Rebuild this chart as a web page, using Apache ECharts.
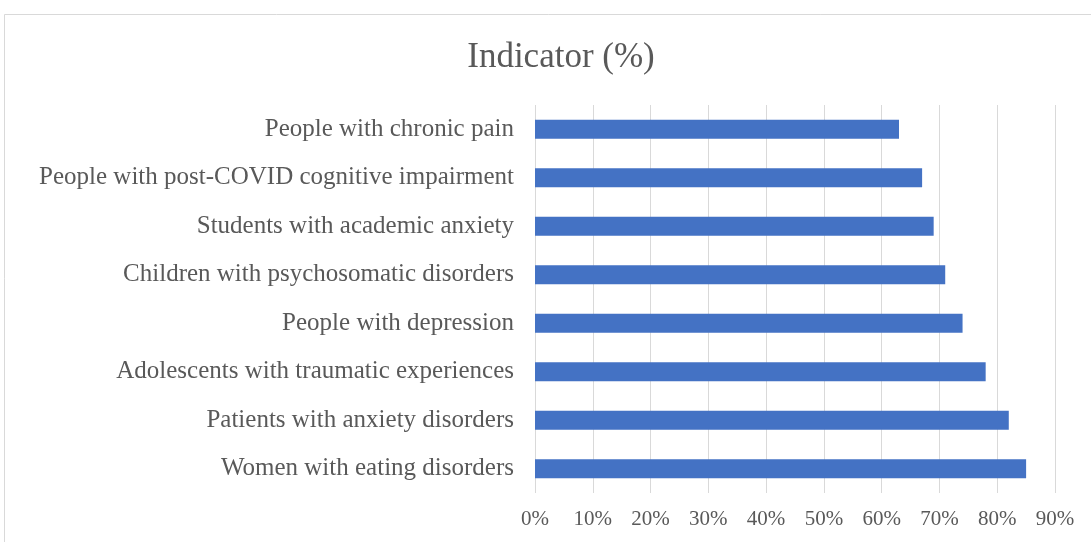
<!DOCTYPE html>
<html>
<head>
<meta charset="utf-8">
<script src="https://cdn.jsdelivr.net/npm/echarts@6/dist/echarts.min.js"></script>
<style>
  html, body { margin: 0; padding: 0; background: #fff; }
  #chart { width: 1091px; height: 542px; }
</style>
</head>
<body>
<div id="chart"></div>
<script>
// Categories listed top to bottom
var categories = [
  'People with chronic pain',
  'People with post-COVID cognitive impairment',
  'Students with academic anxiety',
  'Children with psychosomatic disorders',
  'People with depression',
  'Adolescents with traumatic experiences',
  'Patients with anxiety disorders',
  'Women with eating disorders'
];
var values = [63, 67, 69, 71, 74, 78, 82, 85];
var tickMax = 90;

var serif = '"Liberation Serif", "DejaVu Serif", serif';
var textColor = '#595959';

var chart = echarts.init(document.getElementById('chart'));
chart.setOption({
  animation: false,
  backgroundColor: '#fff',
  title: {
    text: 'Indicator (%)',
    left: 556, top: 35,
    textAlign: 'center',
    textStyle: { fontFamily: serif, fontSize: 35, fontWeight: 'normal', color: textColor }
  },
  graphic: [{
    type: 'rect',
    shape: { x: 4.5, y: 14.5, width: 1100, height: 540 },
    style: { fill: 'none', stroke: '#d9d9d9', lineWidth: 1 },
    silent: true
  }],
  grid: { left: 535, right: 36, top: 105, bottom: 49, containLabel: false },
  xAxis: {
    type: 'value',
    min: 0, max: tickMax, interval: 10,
    axisLine: { show: false },
    axisTick: { show: false },
    axisLabel: {
      formatter: '{value}%',
      fontFamily: serif, fontSize: 21, color: textColor, margin: 16
    },
    splitLine: { show: true, lineStyle: { color: '#d9d9d9', width: 1 } }
  },
  yAxis: {
    type: 'category',
    data: categories,
    inverse: true,
    axisLine: { show: false },
    axisTick: { show: false },
    axisLabel: { fontFamily: serif, fontSize: 25, color: textColor, margin: 21 }
  },
  series: [{
    type: 'bar',
    data: values,
    barWidth: 19,
    itemStyle: { color: '#4472c4' }
  }]
});
</script>
</body>
</html>
